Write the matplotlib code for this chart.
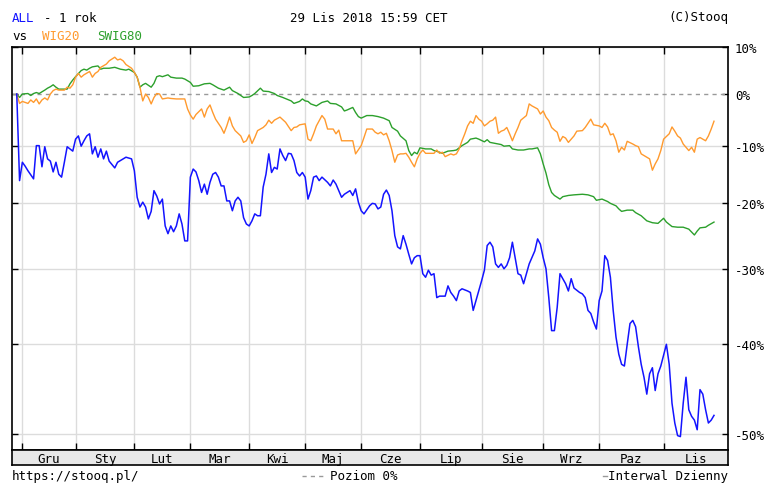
import numpy as np
import matplotlib.pyplot as plt

# trading day (0 = 2017-11-29) and change in %
all_day = [0, 1, 2, 3, 4, 6, 7, 8, 9, 10, 11, 12, 13, 14, 15, 16, 17, 18, 20, 21, 22, 23, 24, 25, 26, 27, 28, 29, 30,
           31, 32, 33, 35, 36, 39, 41, 42, 43, 44, 45, 46, 47, 48, 49, 50, 51, 52, 53, 54, 55, 56, 57, 58, 59, 60, 61,
           62, 63, 64, 65, 66, 67, 68, 69, 70, 71, 72, 73, 74, 75, 76, 77, 78, 79, 80, 81, 82, 83, 84, 85, 86, 87, 88,
           89, 90, 91, 92, 93, 94, 95, 96, 97, 98, 99, 100, 101, 102, 103, 104, 105, 106, 107, 108, 109, 111, 112, 113,
           114, 116, 117, 118, 119, 120, 121, 122, 123, 124, 126, 127, 128, 129, 130, 131, 132, 133, 134, 135, 136, 137,
           138, 139, 140, 141, 142, 143, 144, 145, 146, 147, 148, 149, 150, 151, 153, 154, 155, 156, 157, 158, 159, 161,
           162, 163, 164, 166, 167, 168, 169, 170, 171, 172, 173, 174, 175, 176, 177, 178, 179, 180, 181, 182, 183, 185,
           186, 187, 188, 189, 190, 191, 192, 193, 194, 195, 196, 197, 198, 199, 201, 202, 203, 204, 205, 206, 207, 208,
           209, 210, 211, 212, 213, 214, 215, 216, 217, 218, 219, 220, 221, 222, 223, 224, 225, 226, 227, 228, 229, 230,
           232, 233, 234, 235, 236, 237, 238, 239, 240, 241, 242, 243, 244, 245, 246, 247, 248, 249]
all_pct = [0.0, -16.2, -13.0, -13.7, -14.5, -15.9, -10.0, -10.0, -13.8, -10.2, -12.4, -12.8, -14.7, -13.0, -15.1,
           -15.6, -13.0, -10.2, -11.0, -8.8, -8.2, -10.1, -9.1, -8.2, -7.8, -11.5, -10.2, -12.1, -10.6, -12.4, -11.0,
           -12.8, -14.0, -13.0, -12.1, -12.4, -14.5, -19.0, -20.6, -19.8, -20.6, -22.5, -21.3, -17.9, -18.8, -20.1,
           -19.3, -23.6, -24.8, -23.6, -24.5, -23.6, -21.7, -23.3, -25.9, -25.9, -15.6, -14.2, -14.7, -16.2, -18.2,
           -16.8, -18.5, -16.5, -15.1, -14.8, -15.6, -17.1, -17.1, -19.6, -19.6, -21.2, -19.6, -19.0, -19.6, -22.3,
           -23.3, -23.6, -22.8, -21.7, -22.0, -22.0, -17.3, -15.1, -11.5, -14.8, -13.9, -14.2, -10.6, -11.8, -12.7,
           -11.4, -11.5, -12.7, -14.8, -15.4, -14.8, -15.6, -19.3, -17.9, -15.6, -15.4, -16.2, -15.6, -16.5, -17.1,
           -16.1, -16.8, -19.0, -18.5, -18.2, -17.9, -18.7, -17.6, -19.8, -21.2, -21.7, -20.4, -20.0, -20.1, -20.9,
           -20.6, -18.5, -17.8, -18.7, -21.2, -25.1, -26.8, -27.1, -25.1, -26.4, -27.9, -29.3, -28.4, -28.1, -28.1,
           -30.7, -31.2, -30.2, -30.9, -30.7, -34.0, -33.8, -33.8, -32.4, -33.3, -33.8, -34.4, -33.1, -32.8, -33.1,
           -33.3, -35.7, -34.4, -31.7, -30.2, -26.6, -26.1, -26.8, -29.3, -29.8, -29.3, -30.0, -29.5, -28.4, -26.1,
           -28.4, -30.7, -30.9, -32.1, -30.7, -29.3, -27.4, -25.6, -26.4, -28.4, -30.0, -34.0, -38.3, -38.3, -35.3,
           -30.7, -31.4, -32.1, -33.1, -31.4, -32.7, -33.3, -33.5, -34.0, -35.7, -36.1, -37.2, -38.1, -34.4, -33.1,
           -28.1, -28.8, -31.2, -35.7, -39.1, -41.2, -42.4, -42.6, -40.0, -37.4, -37.0, -37.8, -40.3, -42.4, -43.9,
           -45.8, -43.5, -42.8, -45.4, -43.5, -42.6, -40.0, -42.4, -46.8, -48.9, -50.2, -50.3, -46.8, -43.9, -47.5,
           -48.2, -48.6, -49.6, -45.3, -45.8, -47.5, -48.9, -48.6, -48.1]

wig20_day = [0, 1, 2, 4, 5, 6, 7, 8, 9, 10, 11, 12, 13, 14, 15, 17, 18, 19, 20, 21, 22, 23, 24, 26, 27, 28, 29, 30,
             32, 33, 34, 35, 36, 37, 38, 39, 41, 42, 43, 44, 45, 46, 47, 48, 49, 50, 51, 52, 54, 55, 57, 59, 60, 61,
             62, 63, 64, 66, 67, 68, 69, 70, 71, 73, 74, 75, 76, 77, 78, 80, 81, 82, 83, 84, 85, 86, 88, 89, 90, 91,
             92, 94, 96, 98, 99, 100, 101, 103, 104, 105, 106, 107, 109, 110, 111, 113, 114, 115, 116, 118, 120, 121,
             123, 124, 125, 127, 128, 129, 130, 131, 132, 133, 134, 135, 136, 137, 138, 139, 140, 141, 142, 143, 144,
             145, 146, 147, 149, 150, 151, 152, 153, 155, 156, 157, 158, 159, 160, 161, 162, 163, 164, 165, 166, 167,
             168, 169, 170, 171, 172, 173, 174, 175, 176, 177, 178, 179, 180, 182, 183, 184, 186, 187, 188, 189, 190,
             191, 192, 193, 194, 195, 196, 197, 199, 200, 202, 203, 204, 205, 206, 208, 209, 210, 211, 212, 213, 214,
             215, 216, 217, 218, 220, 221, 222, 223, 224, 226, 227, 228, 229, 230, 231, 233, 234, 235, 236, 237, 238,
             240, 241, 242, 243, 244, 245, 246, 247, 248, 249]
wig20_pct = [0.0, -1.9, -1.5, -1.9, -1.2, -1.7, -1.0, -2.0, -1.2, -0.8, -1.2, 0.0, 0.7, 1.0, 0.8, 0.8, 1.4, 1.2, 1.9,
             3.5, 4.3, 3.5, 4.0, 4.7, 3.5, 4.3, 4.7, 5.6, 6.3, 7.0, 7.4, 7.8, 7.2, 7.4, 7.0, 6.2, 5.4, 4.5, 3.5, 1.4,
             -1.4, 0.0, -0.7, -2.0, -0.7, 0.1, 0.0, -1.0, -0.8, -0.9, -1.0, -1.0, -1.0, -3.0, -4.2, -5.0, -4.1, -3.0,
             -4.6, -3.0, -2.2, -3.7, -5.0, -6.6, -7.7, -6.3, -4.6, -6.3, -7.2, -8.2, -9.4, -9.1, -8.0, -9.6, -8.5,
             -7.2, -6.6, -6.1, -5.2, -5.8, -5.2, -4.6, -5.6, -7.2, -6.6, -6.5, -6.1, -5.9, -8.8, -9.1, -7.8, -6.3,
             -4.3, -5.0, -6.9, -6.9, -7.8, -7.1, -9.1, -9.1, -9.1, -11.5, -10.0, -8.5, -6.9, -6.9, -7.5, -7.8, -7.5,
             -8.0, -7.7, -9.1, -10.9, -13.0, -11.7, -11.5, -11.5, -11.4, -12.1, -13.0, -13.8, -12.4, -11.4, -10.8,
             -11.4, -11.4, -11.4, -10.8, -11.4, -11.2, -12.0, -11.5, -11.7, -11.5, -10.6, -9.1, -7.8, -6.3, -5.4,
             -5.8, -4.3, -5.0, -5.4, -6.3, -5.9, -5.4, -5.2, -4.6, -7.7, -7.3, -7.1, -6.6, -7.8, -9.1, -7.8, -6.6,
             -5.2, -4.3, -2.0, -2.4, -3.0, -4.0, -3.4, -4.6, -5.3, -6.6, -7.1, -7.5, -9.2, -8.3, -8.6, -9.4, -8.2,
             -7.3, -7.2, -6.6, -5.8, -5.0, -6.1, -6.3, -6.6, -5.8, -6.5, -8.0, -7.8, -9.1, -11.2, -10.3, -10.8, -9.2,
             -9.7, -10.0, -10.2, -11.5, -11.8, -12.4, -14.4, -13.3, -12.4, -10.9, -8.8, -7.8, -6.5, -7.3, -8.2, -8.6,
             -9.7, -10.9, -10.3, -11.2, -8.8, -8.5, -8.8, -9.1, -8.2, -6.9, -5.4]

swig80_day = [0, 1, 2, 4, 5, 6, 7, 8, 10, 11, 12, 13, 14, 15, 17, 18, 19, 20, 21, 23, 24, 25, 26, 27, 29, 30, 31, 33,
              35, 37, 39, 40, 42, 43, 44, 45, 46, 48, 49, 50, 51, 52, 54, 55, 57, 59, 60, 62, 63, 65, 67, 69, 70, 72,
              74, 76, 77, 79, 81, 83, 84, 85, 87, 88, 90, 92, 93, 95, 98, 99, 101, 102, 103, 104, 105, 107, 109, 111,
              112, 114, 116, 117, 118, 120, 121, 122, 123, 125, 127, 129, 131, 133, 134, 136, 137, 139, 140, 141, 142,
              143, 144, 146, 148, 149, 151, 152, 154, 156, 157, 159, 161, 162, 164, 165, 167, 168, 169, 171, 173, 174,
              176, 177, 179, 181, 183, 184, 186, 187, 188, 189, 190, 191, 192, 194, 195, 197, 199, 202, 204, 206, 207,
              209, 211, 212, 214, 215, 216, 218, 220, 221, 223, 225, 227, 229, 230, 231, 232, 234, 236, 238, 240, 242,
              243, 244, 246, 247, 249]
swig80_pct = [0.0, -0.7, 0.0, 0.1, -0.3, 0.1, 0.3, 0.1, 0.8, 1.2, 1.5, 1.9, 1.4, 1.0, 1.0, 1.0, 2.1, 2.9, 3.6, 4.9,
              5.2, 5.0, 5.4, 5.7, 5.9, 5.2, 5.4, 5.4, 5.6, 5.2, 5.0, 5.2, 4.5, 3.5, 1.4, 1.9, 2.2, 1.4, 2.2, 3.6, 3.8,
              3.6, 4.0, 3.5, 3.3, 3.3, 3.1, 2.4, 1.6, 1.7, 2.1, 2.2, 1.9, 1.2, 0.8, 1.4, 0.7, 0.1, -0.7, -0.6, -0.3,
              0.1, 1.2, 0.6, 0.5, 0.1, -0.3, -0.7, -1.4, -1.9, -1.5, -1.0, -1.4, -1.5, -2.0, -2.4, -1.7, -1.4, -1.9,
              -2.0, -2.6, -3.4, -3.2, -2.7, -3.7, -4.5, -4.8, -4.3, -4.3, -4.5, -4.8, -5.3, -6.6, -7.3, -8.2, -9.1,
              -10.9, -11.8, -11.2, -11.5, -10.4, -10.6, -10.6, -10.9, -11.2, -11.4, -11.0, -10.9, -10.8, -10.0, -9.4,
              -8.8, -8.6, -8.8, -9.3, -8.9, -9.4, -9.6, -9.8, -10.1, -10.0, -10.6, -10.8, -10.8, -10.6, -10.6, -10.4,
              -11.5, -13.3, -14.9, -16.9, -18.2, -18.7, -19.3, -18.9, -18.7, -18.6, -18.5, -18.6, -18.9, -19.5, -19.3,
              -19.7, -20.0, -20.4, -20.9, -21.3, -21.1, -21.1, -21.5, -22.0, -22.8, -23.1, -23.2, -22.8, -22.4, -23.0,
              -23.7, -23.8, -23.8, -24.1, -25.0, -24.4, -23.9, -23.8, -23.5, -23.0]

months = ["Gru", "Sty", "Lut", "Mar", "Kwi", "Maj", "Cze", "Lip", "Sie", "Wrz", "Paz", "Lis"]
month_start = [2, 21, 42, 62, 83, 103, 123, 144, 166, 188, 208, 231]
y_levels = [10, 0, -10, -20, -30, -40, -50]

BLUE = "#1414ff"
ORANGE = "#ff9a2e"
GREEN = "#2ca02c"
GRID = "#dcdcdc"
MONO = "DejaVu Sans Mono"

W, H = 768, 485
fig = plt.figure(figsize=(W / 100, H / 100), dpi=100)
ax = fig.add_axes([12 / W, 1 - 451 / H, 716 / W, 403 / H])
band = fig.add_axes([12 / W, 1 - 466 / H, 716 / W, 15 / H])

x_min, x_max = -1.7, 254

# grid
for m in month_start:
    ax.axvline(m, color=GRID, lw=1, zorder=1)
for lv in y_levels:
    if lv != 0:
        ax.axhline(1 + lv / 100, color=GRID, lw=1, zorder=1)
ax.axhline(1.0, color="#999999", lw=1, ls=(0, (3, 3)), zorder=2)

# series on log scale of (1 + change)
ax.plot(swig80_day, 1 + np.array(swig80_pct) / 100, color=GREEN, lw=1.0, zorder=3)
ax.plot(wig20_day, 1 + np.array(wig20_pct) / 100, color=ORANGE, lw=1.0, zorder=3)
ax.plot(all_day, 1 + np.array(all_pct) / 100, color=BLUE, lw=1.1, zorder=4)

ax.set_yscale("log")
ax.set_ylim(0.4836, 1.1007)
ax.set_xlim(x_min, x_max)
ax.set_yticks([1 + v / 100 for v in y_levels])
ax.set_yticklabels([f"{v}%" for v in y_levels], fontfamily=MONO, fontsize=9)
ax.minorticks_off()
ax.set_xticks(month_start)
ax.set_xticklabels([])
ax.tick_params(axis="x", direction="in", top=True, bottom=True, length=5, width=1)
ax.tick_params(axis="y", direction="in", left=True, right=True, labelleft=False, labelright=True,
               length=4, width=1, pad=5)
for s in ax.spines.values():
    s.set_color("black")
    s.set_linewidth(1.2)

# month band
band.set_facecolor("#e8e8e8")
band.set_xlim(x_min, x_max)
band.set_ylim(0, 1)
band.set_xticks([])
band.set_yticks([])
for s in band.spines.values():
    s.set_color("black")
    s.set_linewidth(1.2)
edges = month_start + [x_max]
for i, name in enumerate(months):
    band.text((edges[i] + edges[i + 1]) / 2, 0.45, name, ha="center", va="center",
              fontfamily=MONO, fontsize=9)

# header and footer
def px_text(x, y, s, color="black", ha="left"):
    fig.text(x / W, 1 - y / H, s, color=color, ha=ha, va="center", fontfamily=MONO, fontsize=9)

px_text(12, 18, "ALL", BLUE)
px_text(44, 18, "- 1 rok")
px_text(369, 18, "29 Lis 2018 15:59 CET", ha="center")
px_text(728, 18, "(C)Stooq", ha="right")
px_text(12, 36, "vs")
px_text(42, 36, "WIG20", ORANGE)
px_text(97, 36, "SWIG80", GREEN)

px_text(12, 477, "https://stooq.pl/")
fig.lines.append(plt.Line2D([302 / W, 326 / W], [1 - 477 / H, 1 - 477 / H], transform=fig.transFigure,
                            color="#999999", lw=1, ls=(0, (3, 3))))
px_text(330, 477, "Poziom 0%")
fig.lines.append(plt.Line2D([603 / W, 607 / W], [1 - 477 / H, 1 - 477 / H], transform=fig.transFigure,
                            color="#999999", lw=1))
px_text(728, 477, "Interwal Dzienny", ha="right")

fig.savefig("out.png", dpi=100)
